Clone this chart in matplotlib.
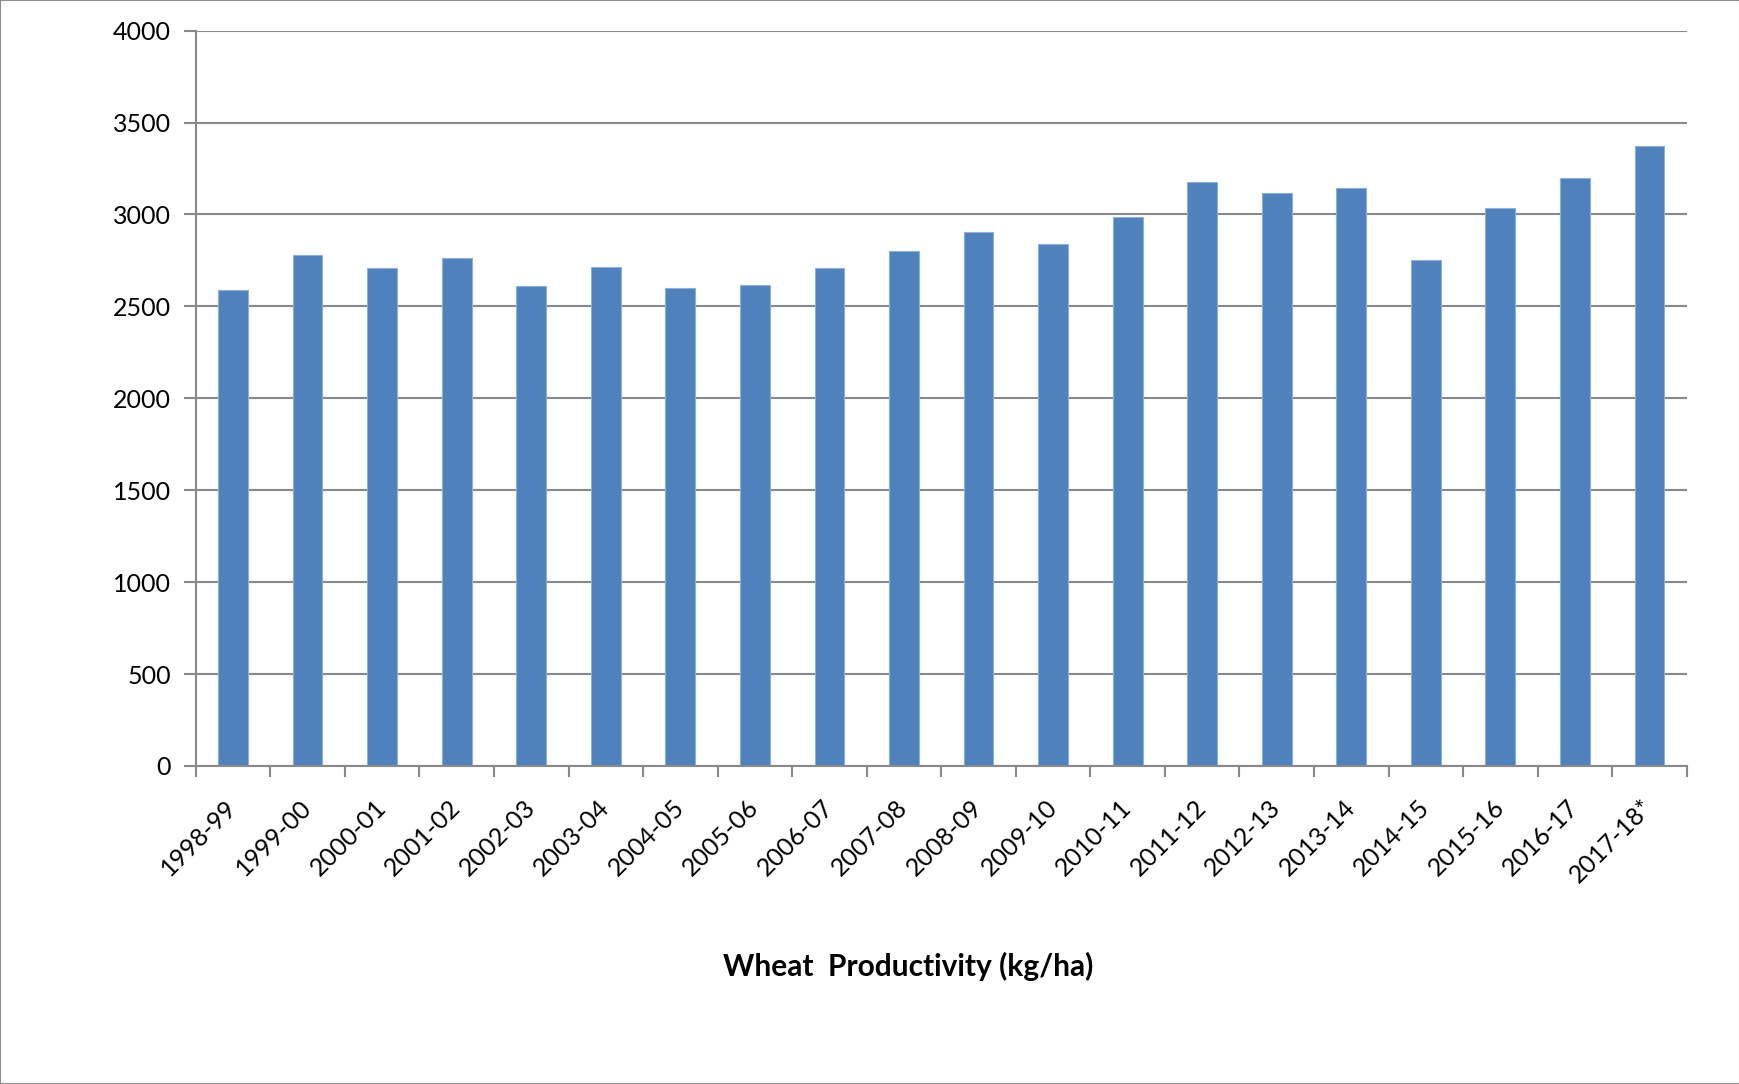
#!/usr/bin/env python3

import matplotlib
matplotlib.use('Agg')
import matplotlib.pyplot as plt
import numpy as np

seasons = ['1998-99', '1999-00', '2000-01', '2001-02', '2002-03', '2003-04',
           '2004-05', '2005-06', '2006-07', '2007-08', '2008-09', '2009-10',
           '2010-11', '2011-12', '2012-13', '2013-14', '2014-15', '2015-16',
           '2016-17', '2017-18*']
yield_kg_ha = [2590, 2778, 2708, 2762, 2610, 2713, 2602, 2619, 2708, 2802,
               2907, 2839, 2988, 3177, 3117, 3145, 2750, 3034, 3200, 3371]
y_ticks = [0, 500, 1000, 1500, 2000, 2500, 3000, 3500, 4000]
title = 'Wheat  Productivity (kg/ha)'

grid_color = '#898989'
bar_color = '#4F81BD'

plt.rcParams['font.family'] = ['Lato', 'DejaVu Sans']

fig = plt.figure(figsize=(17.4, 10.84), dpi=100)
ax = fig.add_axes([0.1125, 0.2934, 0.9694 - 0.1125, 0.9717 - 0.2934])

x = np.arange(len(seasons))
ax.bar(x, yield_kg_ha, width=0.4, color=bar_color, edgecolor='#8DB0DA',
       linewidth=0.8, zorder=3)

ax.set_xlim(-0.5, len(seasons) - 0.5)
ax.set_ylim(0, 4000)
ax.set_yticks(y_ticks)
ax.set_yticklabels([str(v) for v in y_ticks], fontsize=18)
ax.yaxis.grid(True, color=grid_color, linewidth=1.5, zorder=0)

# category labels at bar centers, tick marks between categories
ax.set_xticks(x)
ax.set_xticklabels(seasons, fontsize=18, rotation=45, ha='right',
                   va='center', rotation_mode='anchor')
ax.tick_params(axis='x', which='major', length=0, pad=27)
ax.set_xticks(np.arange(len(seasons) + 1) - 0.5, minor=True)
ax.tick_params(axis='x', which='minor', length=8, width=1.5, color=grid_color)
ax.tick_params(axis='y', length=9, width=1.5, color=grid_color, pad=9)

for side in ['top', 'right']:
    ax.spines[side].set_visible(False)
for side in ['left', 'bottom']:
    ax.spines[side].set_color(grid_color)
    ax.spines[side].set_linewidth(1.5)
ax.spines['left'].set_zorder(4)
ax.spines['bottom'].set_zorder(4)

fig.text(0.522, 0.108, title, fontsize=21.5, fontweight='bold',
         ha='center', va='center')

fig.add_artist(plt.Rectangle((0, 0), 1, 1, transform=fig.transFigure,
                             fill=False, edgecolor='#8C8C8C', linewidth=1.5))

fig.savefig('out.png', dpi=100)
